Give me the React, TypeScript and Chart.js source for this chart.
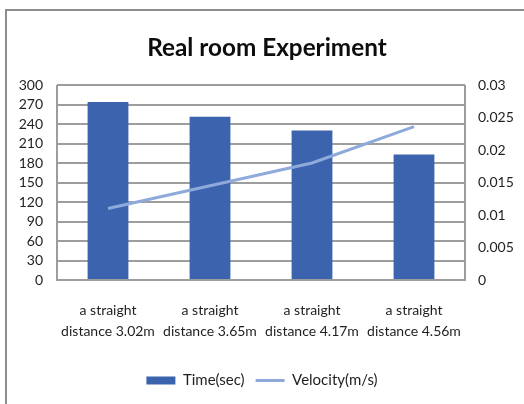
import React, { useEffect, useRef } from "react";
import { Chart, registerables } from "chart.js";

Chart.register(...registerables);

const categories: string[][] = [
  ["a straight", "distance 3.02m"],
  ["a straight", "distance 3.65m"],
  ["a straight", "distance 4.17m"],
  ["a straight", "distance 4.56m"],
];
const timeSec: number[] = [274, 251, 230, 193];
const velocity: number[] = [0.011, 0.0145, 0.018, 0.0236];
const leftTicks: number[] = [0, 30, 60, 90, 120, 150, 180, 210, 240, 270, 300];
const rightTicks: number[] = [0, 0.005, 0.01, 0.015, 0.02, 0.025, 0.03];
const titleText = "Real room Experiment";

const FONT = "Lato, 'Open Sans', sans-serif";
const TEXT = "#1f1f1f";
const GRID = "#9d9d9d";

const framePlugin = {
  id: "frame",
  beforeDraw(chart: any) {
    const ctx = chart.ctx;
    ctx.save();
    ctx.fillStyle = "#ffffff";
    ctx.fillRect(0, 0, chart.width, chart.height);
    ctx.strokeStyle = "#8c8c8c";
    ctx.lineWidth = 2;
    ctx.strokeRect(6, 10, chart.width + 20, chart.height + 20);
    ctx.fillStyle = "#0d0d0d";
    ctx.font = `bold 27px ${FONT}`;
    const w = ctx.measureText(titleText).width;
    const size = 27 * (240 / w);
    ctx.font = `bold ${size.toFixed(1)}px ${FONT}`;
    ctx.textAlign = "center";
    ctx.textBaseline = "middle";
    ctx.fillText(titleText, 267, 48);
    ctx.restore();
  },
  afterDatasetsDraw(chart: any) {
    const { left, right, top, bottom } = chart.chartArea;
    const ctx = chart.ctx;
    ctx.save();
    ctx.strokeStyle = GRID;
    ctx.lineWidth = 2;
    ctx.beginPath();
    ctx.moveTo(left, top);
    ctx.lineTo(left, bottom);
    ctx.moveTo(right, top);
    ctx.lineTo(right, bottom);
    ctx.stroke();
    ctx.restore();
  },
};

export default function App() {
  const ref = useRef<HTMLCanvasElement>(null);
  useEffect(() => {
    document.body.style.margin = "0";
    const chart = new Chart(ref.current!, {
      type: "bar",
      data: {
        labels: categories,
        datasets: [
          {
            type: "line",
            label: "Velocity(m/s)",
            data: velocity,
            yAxisID: "y1",
            borderColor: "#8eaadb",
            backgroundColor: "#8eaadb",
            borderWidth: 3,
            pointRadius: 0,
            pointStyle: "line",
            order: 0,
          } as any,
          {
            type: "bar",
            label: "Time(sec)",
            data: timeSec,
            yAxisID: "y",
            backgroundColor: "#3b63ae",
            borderWidth: 0,
            categoryPercentage: 0.8,
            barPercentage: 0.5,
            pointStyle: "rect",
            order: 1,
          } as any,
        ],
      },
      options: {
        animation: false,
        responsive: false,
        layout: { padding: { top: 85, bottom: 6, left: 0, right: 0 } },
        plugins: {
          title: { display: false },
          tooltip: { enabled: false },
          legend: {
            position: "bottom",
            reverse: true,
            labels: {
              usePointStyle: true,
              pointStyleWidth: 29,
              boxHeight: 8,
              padding: 11,
              color: TEXT,
              font: { family: FONT, size: 15 },
            },
          },
        },
        scales: {
          x: {
            grid: { display: false, drawTicks: false },
            border: { display: true, color: GRID, width: 2 },
            ticks: {
              autoSkip: false,
              color: TEXT,
              padding: 20,
              maxRotation: 0,
              font: { family: FONT, size: 14, lineHeight: 1.5 },
            },
          },
          y: {
            position: "left",
            min: 0,
            max: 300,
            afterFit: (s: any) => { s.width = 57; },
            afterBuildTicks: (s: any) => { s.ticks = leftTicks.map((v) => ({ value: v })); },
            grid: { color: GRID, lineWidth: 2, drawTicks: false },
            border: { display: false },
            ticks: {
              autoSkip: false,
              color: TEXT,
              padding: 14,
              font: { family: FONT, size: 14 },
            },
          },
          y1: {
            position: "right",
            min: 0,
            max: 0.03,
            afterFit: (s: any) => { s.width = 59; },
            afterBuildTicks: (s: any) => { s.ticks = rightTicks.map((v) => ({ value: v })); },
            grid: { display: false, drawTicks: false },
            border: { display: false },
            ticks: {
              autoSkip: false,
              color: TEXT,
              padding: 13,
              font: { family: FONT, size: 14 },
              callback: (v: any) => String(Number(v)),
            },
          },
        },
      },
      plugins: [framePlugin],
    });
    return () => chart.destroy();
  }, []);
  return <canvas ref={ref} width={524} height={404} style={{ display: "block" }} />;
}
